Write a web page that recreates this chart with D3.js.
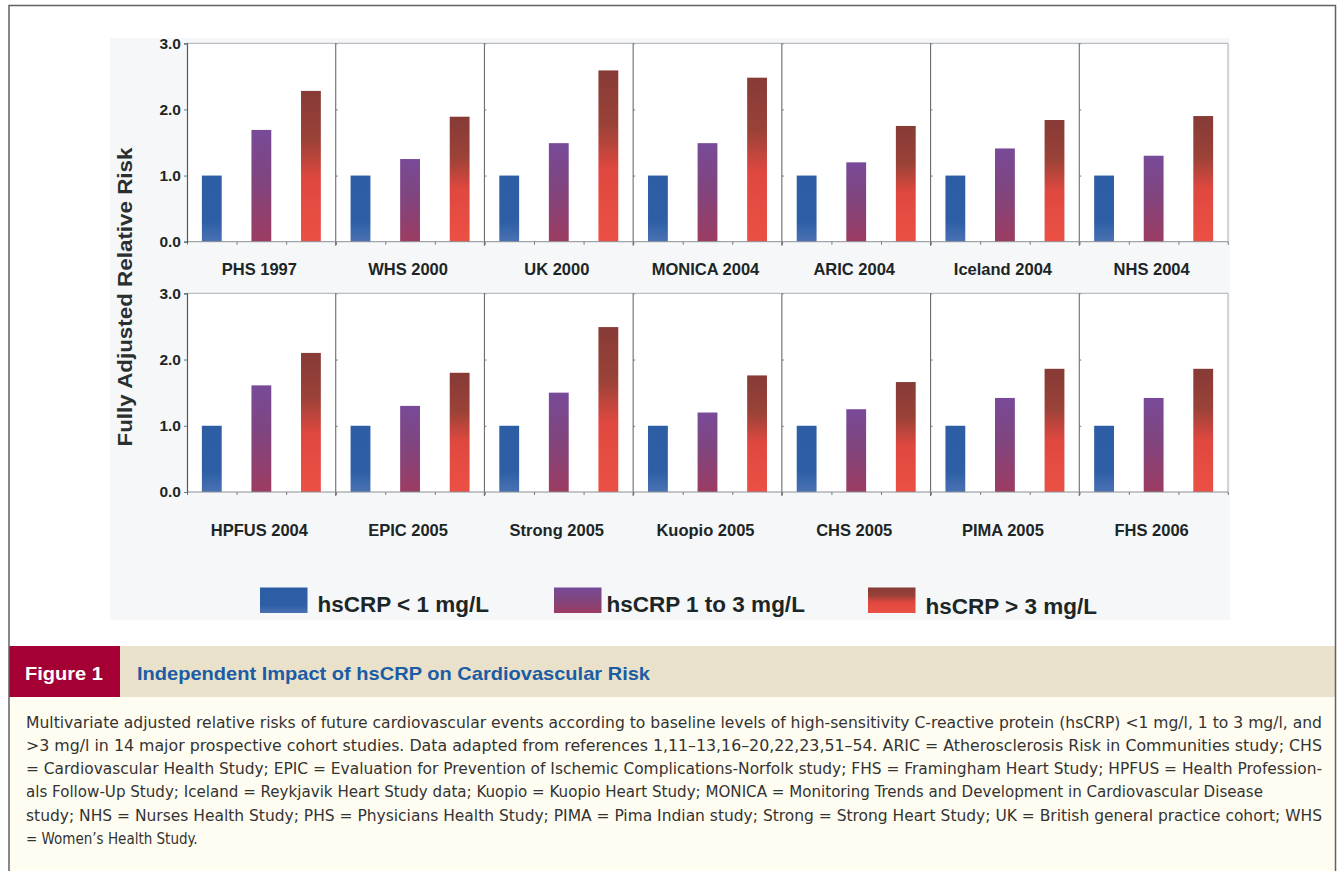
<!DOCTYPE html>
<html>
<head>
<meta charset="utf-8">
<script src="https://cdn.jsdelivr.net/npm/d3@7"></script>
<style>
  html, body { margin: 0; padding: 0; background: #ffffff; }
  svg { display: block; }
</style>
</head>
<body>
<svg id="fig" width="1341" height="871"></svg>
<script>
// ---- Data -------------------------------------------------------------
const studiesTop    = ["PHS 1997", "WHS 2000", "UK 2000", "MONICA 2004", "ARIC 2004", "Iceland 2004", "NHS 2004"];
const studiesBottom = ["HPFUS 2004", "EPIC 2005", "Strong 2005", "Kuopio 2005", "CHS 2005", "PIMA 2005", "FHS 2006"];
const levels = ["hsCRP < 1 mg/L", "hsCRP 1 to 3 mg/L", "hsCRP > 3 mg/L"];

// relative risk by study (top row first, then bottom row)
const riskLow  = [1.00, 1.00, 1.00, 1.00, 1.00, 1.00, 1.00,  1.00, 1.00, 1.00, 1.00, 1.00, 1.00, 1.00];
const riskMid  = [1.69, 1.25, 1.49, 1.49, 1.20, 1.41, 1.30,  1.61, 1.30, 1.50, 1.20, 1.25, 1.42, 1.42];
const riskHigh = [2.28, 1.89, 2.59, 2.48, 1.75, 1.84, 1.90,  2.10, 1.80, 2.49, 1.76, 1.66, 1.86, 1.86];

const yTicks = [0, 1, 2, 3];
const yTitle = "Fully Adjusted Relative Risk";

const figLabel = "Figure 1";
const figTitle = "Independent Impact of hsCRP on Cardiovascular Risk";
const captionLines = [
  "Multivariate adjusted relative risks of future cardiovascular events according to baseline levels of high-sensitivity C-reactive protein (hsCRP) <1 mg/l, 1 to 3 mg/l, and",
  ">3 mg/l in 14 major prospective cohort studies. Data adapted from references 1,11\u201313,16\u201320,22,23,51\u201354. ARIC = Atherosclerosis Risk in Communities study; CHS",
  "= Cardiovascular Health Study; EPIC = Evaluation for Prevention of Ischemic Complications-Norfolk study; FHS = Framingham Heart Study; HPFUS = Health Profession-",
  "als Follow-Up Study; Iceland = Reykjavik Heart Study data; Kuopio = Kuopio Heart Study; MONICA = Monitoring Trends and Development in Cardiovascular Disease",
  "study; NHS = Nurses Health Study; PHS = Physicians Health Study; PIMA = Pima Indian study; Strong = Strong Heart Study; UK = British general practice cohort; WHS",
  "= Women\u2019s Health Study."
];

// ---- Layout -----------------------------------------------------------
const W = 1341, H = 871;
const plotLeft = 187, plotRight = 1228;
const rows = [
  { studies: studiesTop,    offset: 0, top: 43.3,  base: 241.7, labelY: 275 },
  { studies: studiesBottom, offset: 7, top: 293.3, base: 492,   labelY: 536 }
];
const captionWidths = [1296, 1296, 1296, 1237, 1296, null];
const legendX = [260, 554, 868];
const legendTextGap = [10, 5, 10];

const svg = d3.select("#fig");
const labelFont = "'Liberation Sans', Arial, Helvetica, sans-serif";
const ink = "#1d2626";

// ---- Gradients for the three hsCRP groups ----------------------------
const defs = svg.append("defs");
const gradStops = [
  [[0, "#2c5da5"], [0.7, "#2e5fa6"], [1, "#4b72b3"]],
  [[0, "#784a98"], [0.45, "#80457f"], [1, "#9c3c62"]],
  [[0, "#873a36"], [0.32, "#9a4238"], [0.58, "#df483f"], [1, "#ec5045"]]
];
gradStops.forEach((stops, i) => {
  const g = defs.append("linearGradient")
    .attr("id", "grad" + i)
    .attr("x1", 0).attr("y1", 0).attr("x2", 0).attr("y2", 1);
  stops.forEach(s => g.append("stop").attr("offset", s[0]).attr("stop-color", s[1]));
});
const fillFor = d3.scaleOrdinal().domain(levels).range(levels.map((_, i) => `url(#grad${i})`));

// ---- Frame ------------------------------------------------------------
svg.append("rect").attr("x", 0).attr("y", 0).attr("width", W).attr("height", H).attr("fill", "#ffffff");

// chart area background
svg.append("rect")
  .attr("x", 110).attr("y", 38).attr("width", 1120).attr("height", 582)
  .attr("fill", "#f6f7f9");

// ---- Panels -----------------------------------------------------------
const riskBySeries = [riskLow, riskMid, riskHigh];

rows.forEach(row => {
  const y = d3.scaleLinear().domain([0, 3]).range([row.base, row.top]);
  const panelX = d3.scaleBand().domain(row.studies).range([plotLeft, plotRight]).padding(0);
  const pw = panelX.bandwidth();

  const g = svg.append("g");

  // white panel interiors
  g.append("rect")
    .attr("x", plotLeft).attr("y", row.top)
    .attr("width", plotRight - plotLeft).attr("height", row.base - row.top)
    .attr("fill", "#ffffff");

  row.studies.forEach((study, si) => {
    const idx = row.offset + si;
    const px = panelX(study);
    const inner = d3.scaleBand().domain(levels).range([px, px + pw])
      .paddingInner(0.6).paddingOuter(0.3);

    const pg = g.append("g");

    const bars = levels.map((lv, li) => ({ level: lv, value: riskBySeries[li][idx] }));
    pg.selectAll("rect.bar").data(bars).join("rect")
      .attr("class", "bar")
      .attr("x", d => inner(d.level))
      .attr("width", inner.bandwidth())
      .attr("y", d => y(d.value))
      .attr("height", d => y(0) - y(d.value))
      .attr("fill", d => fillFor(d.level));

    // small ticks on the panel divider
    if (si > 0) {
      const ax = pg.append("g")
        .attr("transform", `translate(${px},0)`)
        .call(d3.axisRight(y).tickValues([1, 2, 3]).tickSize(2).tickFormat(""));
      ax.select(".domain").remove();
      ax.selectAll("line").attr("stroke", "#777");
    }

    // category ticks along the baseline
    const bx = d3.scaleLinear().domain([0, 3]).range([px, px + pw]);
    const bAx = pg.append("g")
      .attr("transform", `translate(0,${row.base})`)
      .call(d3.axisBottom(bx).tickValues([0, 1, 2, 3]).tickSize(3).tickFormat(""));
    bAx.select(".domain").remove();
    bAx.selectAll("line").attr("stroke", "#777");

    // study label
    pg.append("text")
      .attr("x", px + pw / 2 - 2)
      .attr("y", row.labelY)
      .attr("text-anchor", "middle")
      .attr("font-family", labelFont)
      .attr("font-weight", "bold")
      .attr("font-size", 16.5)
      .attr("fill", ink)
      .text(study);
  });

  // panel borders: top, right edge, dividers, baseline
  g.append("line")
    .attr("x1", plotLeft).attr("x2", plotRight).attr("y1", row.top).attr("y2", row.top)
    .attr("stroke", "#a9adb3").attr("stroke-width", 1);
  g.append("line")
    .attr("x1", plotRight).attr("x2", plotRight).attr("y1", row.top).attr("y2", row.base + 3)
    .attr("stroke", "#a9adb3").attr("stroke-width", 1);
  row.studies.slice(1).forEach(s => {
    g.append("line")
      .attr("x1", panelX(s)).attr("x2", panelX(s))
      .attr("y1", row.top).attr("y2", row.base + 4)
      .attr("stroke", "#6a6d70").attr("stroke-width", 1.1);
  });
  g.append("line")
    .attr("x1", plotLeft).attr("x2", plotRight).attr("y1", row.base).attr("y2", row.base)
    .attr("stroke", "#8a8e94").attr("stroke-width", 1);

  // y axis
  const yAx = g.append("g")
    .attr("transform", `translate(${plotLeft},0)`)
    .call(d3.axisLeft(y).tickValues(yTicks).tickSize(3).tickPadding(3).tickFormat(d3.format(".1f")));
  yAx.select(".domain").attr("stroke", "#55585c").attr("stroke-width", 1.2);
  yAx.selectAll(".tick line").attr("stroke", "#777");
  yAx.selectAll(".tick text")
    .attr("font-family", labelFont)
    .attr("font-weight", "bold")
    .attr("font-size", 15.5)
    .attr("fill", ink);
});

// y axis title
svg.append("text")
  .attr("transform", "translate(124,297) rotate(-90)")
  .attr("text-anchor", "middle")
  .attr("dominant-baseline", "central")
  .attr("font-family", labelFont)
  .attr("font-weight", "bold")
  .attr("font-size", 21)
  .attr("textLength", 299)
  .attr("lengthAdjust", "spacingAndGlyphs")
  .attr("fill", "#2a2f30")
  .text(yTitle);

// ---- Legend -----------------------------------------------------------
const legend = svg.append("g");
levels.forEach((lv, i) => {
  legend.append("rect")
    .attr("x", legendX[i]).attr("y", 587.5)
    .attr("width", 47.5).attr("height", 25.5)
    .attr("fill", fillFor(lv));
  legend.append("text")
    .attr("x", legendX[i] + 47.5 + legendTextGap[i])
    .attr("y", i === 2 ? 613.5 : 611.5)
    .attr("font-family", labelFont)
    .attr("font-weight", "bold")
    .attr("font-size", 22.5)
    .attr("fill", ink)
    .text(lv);
});

// ---- Figure header and caption ----------------------------------------
svg.append("rect").attr("x", 9).attr("y", 646).attr("width", 1327).attr("height", 51).attr("fill", "#e9e1c9");
svg.append("rect").attr("x", 9).attr("y", 646).attr("width", 111).attr("height", 51).attr("fill", "#a50034");
svg.append("rect").attr("x", 9).attr("y", 697).attr("width", 1327).attr("height", 174).attr("fill", "#fffdf1");

svg.append("text")
  .attr("x", 25).attr("y", 679.5)
  .attr("font-family", labelFont)
  .attr("font-weight", "bold")
  .attr("font-size", 19)
  .attr("textLength", 78)
  .attr("lengthAdjust", "spacingAndGlyphs")
  .attr("fill", "#ffffff")
  .text(figLabel);

svg.append("text")
  .attr("x", 137).attr("y", 679.5)
  .attr("font-family", labelFont)
  .attr("font-weight", "bold")
  .attr("font-size", 18.5)
  .attr("textLength", 513)
  .attr("lengthAdjust", "spacingAndGlyphs")
  .attr("fill", "#1b5ca5")
  .text(figTitle);

const cap = svg.append("g");
captionLines.forEach((line, i) => {
  const t = cap.append("text")
    .attr("x", 26)
    .attr("y", 727.5 + i * 23.3)
    .attr("font-family", "'Liberation Sans Narrow', 'DejaVu Sans Condensed', 'Liberation Sans', Arial, sans-serif")
    .attr("font-size", 15)
    .attr("fill", "#333333")
    .text(line);
  if (captionWidths[i]) t.attr("textLength", captionWidths[i]).attr("lengthAdjust", "spacingAndGlyphs");
});

// outer frame
svg.append("path")
  .attr("d", `M9,${H} V5.5 H1335.5 V${H}`)
  .attr("fill", "none")
  .attr("stroke", "#5f6163")
  .attr("stroke-width", 1.5);
</script>
</body>
</html>
